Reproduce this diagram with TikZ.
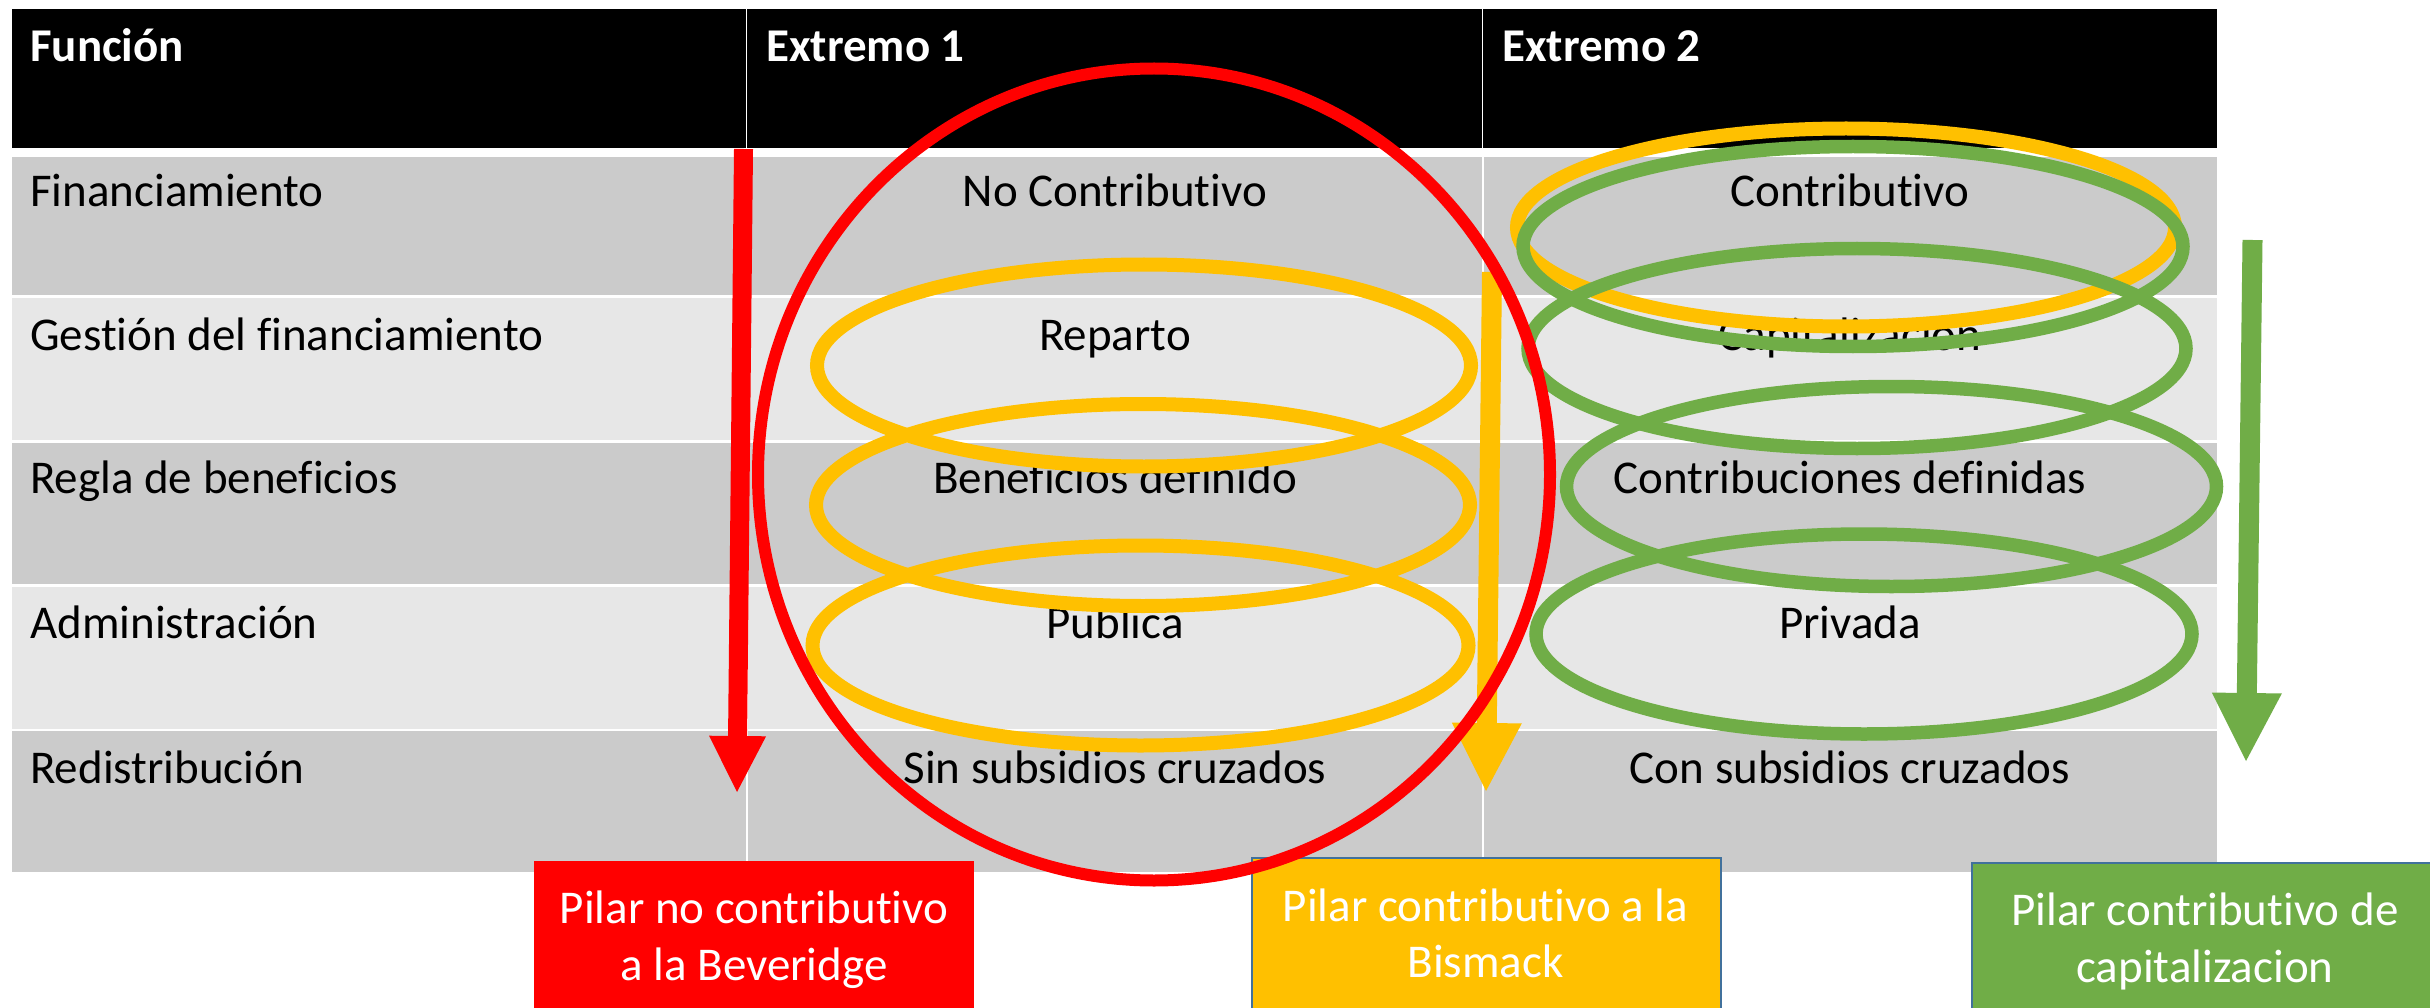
\documentclass[tikz,border=0pt]{standalone}
\usepackage{fontspec}
\setmainfont[Ligatures={NoCommon}]{Carlito}
\usetikzlibrary{arrows.meta}
\definecolor{pred}{HTML}{FF0000}
\definecolor{pyellow}{HTML}{FFC000}
\definecolor{pgreen}{HTML}{70AD47}
\definecolor{rowdark}{HTML}{CBCBCB}
\definecolor{rowlight}{HTML}{E7E7E7}
\definecolor{boxblue}{HTML}{41719C}
\begin{document}
\begin{tikzpicture}[x=1pt,y=-1pt,
  txt/.style={font=\fontsize{47pt}{56pt}\selectfont, inner sep=0pt},
  hdr/.style={font=\fontsize{47pt}{56pt}\selectfont\bfseries, inner sep=0pt, text=white, anchor=base west},
  lefttxt/.style={txt, anchor=base west},
  midtxt/.style={txt, anchor=base},
  boxtxt/.style={txt, anchor=base, text=white},
  yring/.style={draw=pyellow, line width=14pt},
  gring/.style={draw=pgreen, line width=13.5pt},
  rring/.style={draw=pred, line width=12pt},
  sep/.style={draw=white, line width=2pt},
  pbox/.style={rectangle, inner sep=0pt, anchor=north west, minimum height=220pt},
  bigarrow/.style={line width=20pt, -{Triangle[width=70pt,length=68pt,line width=0pt]}}
]
\useasboundingbox (0,0) rectangle (2430,1008);
\clip (0,0) rectangle (2430,1008);
\fill[white] (0,0) rectangle (2430,1008);

% table
\fill[black] (12,9) rectangle (2217,148);
\draw[draw=white, line width=1.5pt] (746.5,9) -- (746.5,148);
\draw[draw=white, line width=1.5pt] (1482.5,9) -- (1482.5,148);
\fill[rowdark] (12,157) rectangle (2217,295);
\fill[rowlight] (12,298) rectangle (2217,440);
\fill[rowdark] (12,443) rectangle (2217,584);
\fill[rowlight] (12,587) rectangle (2217,729);
\fill[rowdark] (12,731) rectangle (2217,872);
\draw[sep] (746.5,157) -- (746.5,872);
\draw[sep] (1482.5,157) -- (1482.5,872);

% header
\node[hdr] (h1) at (30,62) {Función};
\node[hdr] (h2) at (766,62) {Extremo 1};
\node[hdr] (h3) at (1502,62) {Extremo 2};

% first column
\node[lefttxt] (f1) at (30,207) {Financiamiento};
\node[lefttxt] (f2) at (30,350) {Gestión del financiamiento};
\node[lefttxt] (f3) at (30,493) {Regla de beneficios};
\node[lefttxt] (f4) at (30,638) {Administración};
\node[lefttxt] (f5) at (30,783) {Redistribución};

% second column
\node[midtxt] (a1) at (1115,207) {No Contributivo};
\node[midtxt] (a2) at (1115,350) {Reparto};
\node[midtxt] (a3) at (1115,493) {Beneficios definido};
\node[midtxt] (a4) at (1115,638) {Publica};
\node[midtxt] (a5) at (1115,783) {Sin subsidios cruzados};

% third column
\node[midtxt] (b1) at (1850,207) {Contributivo};
\node[midtxt] (b2) at (1850,350) {Capitalizacion};
\node[midtxt] (b3) at (1850,493) {Contribuciones definidas};
\node[midtxt] (b4) at (1850,638) {Privada};
\node[midtxt] (b5) at (1850,783) {Con subsidios cruzados};

% yellow rings
\draw[yring] (1144,365.5) ellipse [x radius=327pt, y radius=101pt];
\draw[yring] (1143,505) ellipse [x radius=327pt, y radius=101pt];
\draw[yring] (1140.5,645.5) ellipse [x radius=328pt, y radius=100pt];
\draw[yring] (1846,227.5) ellipse [x radius=329pt, y radius=99pt];

% green rings
\draw[gring] (1853,246.5) ellipse [x radius=330pt, y radius=100pt];
\draw[gring] (1857,348.5) ellipse [x radius=329pt, y radius=100pt];
\draw[gring] (1891.5,486.5) ellipse [x radius=325pt, y radius=100pt];
\draw[gring] (1864,634) ellipse [x radius=328pt, y radius=100pt];

% arrows
\coordinate (rs) at (743.5,149);
\coordinate (re) at (737,792);
\coordinate (ys) at (1492,272);
\coordinate (ye) at (1486,791);
\coordinate (gs) at (2252.5,240);
\coordinate (ge) at (2246,761);
\draw[draw=pred, fill=pred, line width=19pt, -{Triangle[width=57pt,length=56pt,line width=0pt]}] (rs) -- (re);
\draw[bigarrow, draw=pyellow, fill=pyellow] (ys) -- (ye);
\draw[bigarrow, draw=pgreen, fill=pgreen] (gs) -- (ge);

% label boxes
\node[pbox, fill=pred, minimum width=440pt] (rbox) at (534,861) {};
\node[pbox, fill=pyellow, draw=boxblue, line width=2pt, minimum width=469pt] (ybox) at (1251,857) {};
\node[pbox, fill=pgreen, draw=boxblue, line width=2pt, minimum width=468pt] (gbox) at (1971,862) {};
\node[boxtxt] (r1) at (754,923) {Pilar no contributivo};
\node[boxtxt] (r2) at (754,980) {a la Beveridge};
\node[boxtxt] (y1) at (1485.5,921) {Pilar contributivo a la};
\node[boxtxt] (y2) at (1485.5,977) {Bismack};
\node[boxtxt] (g1) at (2205,925) {Pilar contributivo de};
\node[boxtxt] (g2) at (2205,982) {capitalizacion};

% red ring
\draw[rring] (1154,474.5) ellipse [x radius=396pt, y radius=406pt];
\end{tikzpicture}
\end{document}
